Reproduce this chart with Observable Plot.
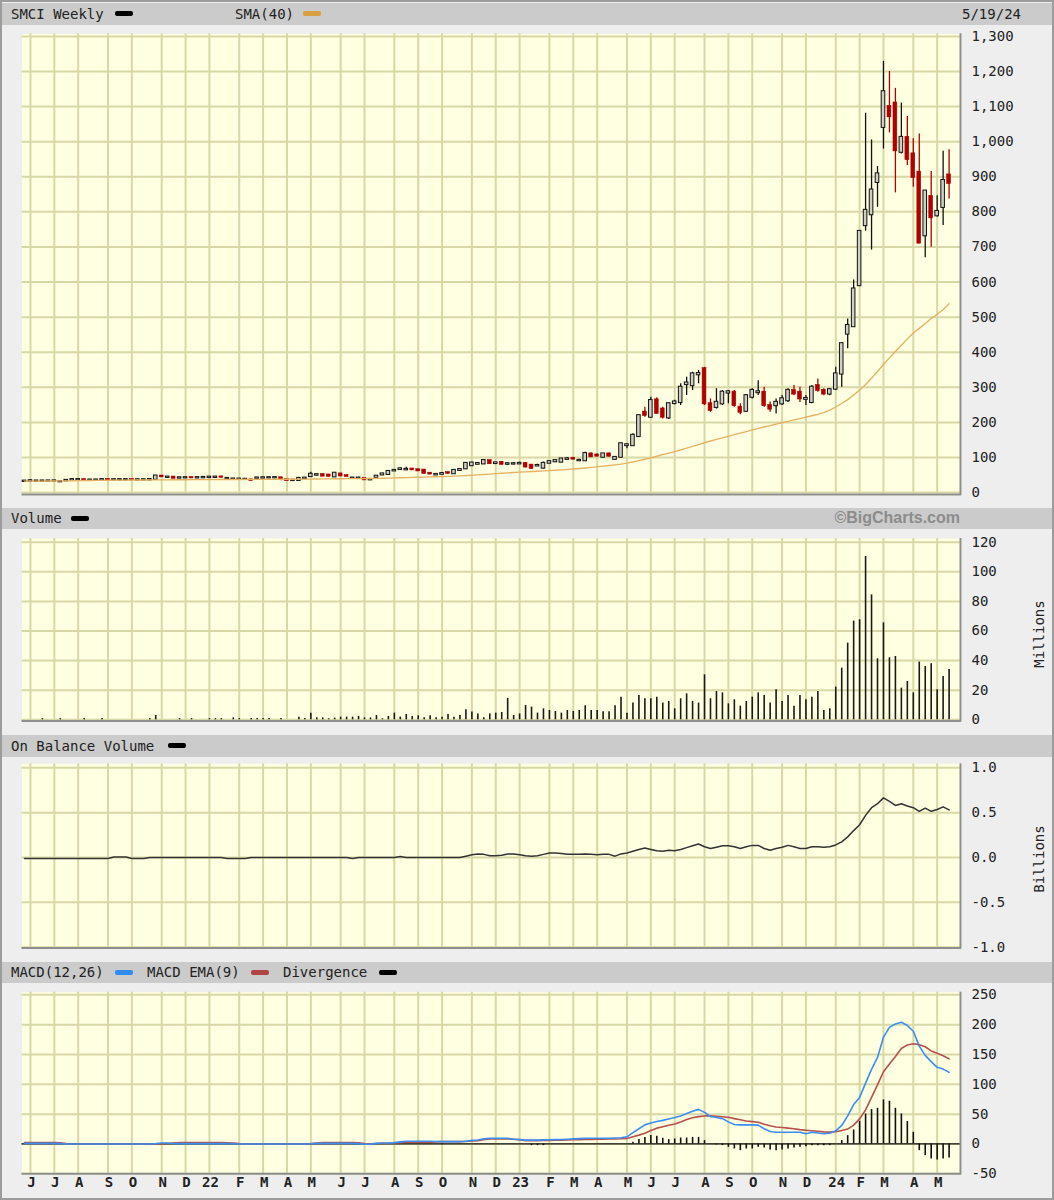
<!DOCTYPE html>
<html>
<head>
<meta charset="utf-8">
<script src="https://cdn.jsdelivr.net/npm/d3@7"></script>
<script src="https://cdn.jsdelivr.net/npm/@observablehq/plot@0.6"></script>
<style>
  body { margin: 0; background: #ffffff; }
  #page { position: relative; width: 1054px; height: 1200px; background: #eeeeee; overflow: hidden;
          font-family: "DejaVu Sans Mono", monospace; }
  .hdr { position: absolute; left: 2px; width: 1050px; background: #cbcbcb; }
  .t { position: absolute; font-size: 14px; color: #222; white-space: nowrap; line-height: 1; }
  .sw { position: absolute; width: 18px; height: 5px; border-radius: 2px; }
  .pl { position: absolute; left: 0; }
  .rot { position: absolute; font-size: 14px; color: #222; white-space: nowrap; transform: translate(-50%, -50%) rotate(-90deg); }
</style>
</head>
<body>
<div id="page"></div>
<script>
// ---------------- DATA (weekly, index 0 = first week shown) ----------------
const tickIdx = [1,5,9,14,18,23,27,31,36,40,44,48,53,57,62,66,70,75,79,83,88,92,96,101,105,109,114,118,122,127,131,136,140,144,149,153];
const tickLabels = ["J","J","A","S","O","N","D","22","F","M","A","M","J","J","A","S","O","N","D","23","F","M","A","M","J","J","A","S","O","N","D","24","F","M","A","M"];

const priceTicks = [0,100,200,300,400,500,600,700,800,900,1000,1100,1200,1300];
const volTicks = [0,20,40,60,80,100,120];
const obvTicks = [-1.0,-0.5,0.0,0.5,1.0];
const macdTicks = [-50,0,50,100,150,200,250];

const open = [
  32.0,32.5,32.5,32.8,32.9,33.0,31.0,34.0,36.0,36.5,
  37.2,35.5,35.6,36.0,37.5,36.2,36.4,36.5,37.4,36.0,
  36.3,36.5,38.0,47.0,43.5,44.0,41.5,42.0,42.8,42.0,
  42.4,43.0,43.5,44.5,40.0,38.5,38.0,37.5,36.0,41.0,
  41.5,42.0,42.2,42.0,36.5,34.5,35.0,40.0,46.0,50.0,
  51.0,50.0,45.0,53.0,48.0,41.0,41.0,39.5,36.5,44.0,
  50.5,52.0,62.0,66.0,65.0,67.0,65.0,64.0,55.0,50.5,
  52.5,57.0,54.0,63.5,68.0,77.0,81.0,82.0,91.0,83.0,
  86.0,81.0,81.5,82.0,83.0,78.0,76.0,70.0,84.0,88.0,
  87.0,95.0,97.0,91.0,91.0,110.0,107.0,101.0,110.0,95.0,
  101.0,134.0,134.0,160.0,229.0,215.0,264.0,238.0,213.0,254.0,
  257.0,308.0,305.0,336.0,353.0,253.0,243.0,253.0,284.0,286.0,
  243.0,232.0,272.0,285.0,286.0,248.0,248.0,253.0,262.0,291.0,
  286.0,266.0,257.0,305.0,291.0,281.0,295.0,338.0,452.0,473.0,
  590.0,761.0,792.0,884.0,1041.0,1100.0,1110.0,970.0,1012.0,965.0,
  913.0,732.0,844.0,789.0,813.0,905.0];
const high = [
  33.0,36.0,33.5,33.3,33.4,33.5,31.5,35.0,37.0,37.2,
  37.6,36.0,36.2,37.0,37.8,36.8,36.9,37.0,37.8,36.6,
  36.8,37.5,47.5,47.5,45.0,44.5,42.5,42.6,43.0,42.8,
  45.0,45.5,46.0,46.5,41.0,39.0,38.8,38.0,36.6,41.8,
  42.3,42.6,42.8,43.0,37.0,35.5,44.0,41.5,58.0,51.5,
  53.0,51.0,56.0,54.5,48.5,42.0,41.8,40.0,37.5,46.5,
  53.5,60.5,64.0,70.0,72.0,68.5,65.5,65.0,57.0,52.5,
  54.5,57.5,63.5,66.0,84.0,85.0,86.0,91.5,92.0,86.0,
  88.0,84.0,84.0,86.5,85.0,80.0,81.0,87.0,89.0,93.0,
  96.5,100.0,101.0,95.0,115.0,112.5,110.0,110.5,113.0,101.5,
  140.0,140.0,168.0,222.0,243.0,272.0,270.0,243.0,255.0,263.0,
  310.0,329.0,343.0,348.0,357.0,267.0,296.0,291.0,291.0,291.0,
  253.0,279.0,296.0,319.0,300.0,258.0,267.0,277.0,296.0,305.0,
  300.0,277.0,305.0,324.0,296.0,296.0,357.0,428.0,495.0,606.0,
  747.0,1081.0,1005.0,929.0,1229.0,1200.0,1152.0,1110.0,1072.0,1008.0,
  1022.0,859.0,915.0,846.0,973.0,977.0];
const low = [
  31.5,32.0,32.0,32.3,32.2,32.3,29.0,33.5,35.5,35.8,
  35.8,35.0,35.2,35.6,36.0,35.8,35.9,36.0,35.8,35.5,
  35.8,36.0,37.5,44.0,43.0,40.5,41.0,41.5,41.8,41.6,
  42.0,42.6,43.0,43.5,39.0,37.8,37.0,36.8,33.5,40.5,
  41.0,41.4,41.8,34.0,34.0,33.8,34.5,39.5,45.5,47.0,
  46.0,46.0,44.5,47.0,45.5,40.5,40.5,35.0,36.0,43.5,
  50.0,51.5,60.0,64.0,63.0,63.5,60.0,54.0,51.5,49.5,
  52.0,53.0,53.0,63.0,67.5,76.0,80.0,81.5,81.5,80.0,
  79.0,78.0,79.0,80.5,71.0,67.0,74.5,67.5,83.0,87.0,
  86.5,93.0,93.5,89.5,90.5,100.0,102.0,100.5,101.0,92.0,
  100.0,125.0,133.0,158.0,215.0,213.0,224.0,210.0,208.0,250.0,
  248.0,277.0,291.0,310.0,248.0,229.0,238.0,248.0,253.0,243.0,
  222.0,229.0,267.0,277.0,243.0,229.0,224.0,248.0,257.0,276.0,
  257.0,248.0,253.0,286.0,276.0,276.0,291.0,300.0,410.0,471.0,
  587.0,745.0,691.0,813.0,979.0,1025.0,854.0,965.0,932.0,870.0,
  711.0,669.0,699.0,785.0,761.0,837.0];
const close = [
  32.5,33.5,32.8,32.9,33.0,33.1,31.2,34.5,36.8,36.9,
  36.0,35.6,35.8,36.8,36.2,36.5,36.6,36.7,36.2,36.3,
  36.5,37.0,47.0,45.0,44.0,41.0,42.0,42.3,42.0,42.4,
  43.0,43.8,44.0,43.8,40.2,38.6,38.3,37.7,35.0,41.5,
  42.0,42.2,42.5,38.0,34.5,35.0,40.0,41.0,52.0,50.8,
  47.0,46.5,55.0,47.5,46.0,41.3,41.3,36.5,37.2,46.5,
  53.0,60.0,63.0,67.5,66.0,65.0,62.0,55.0,53.0,51.5,
  54.0,55.0,63.0,65.5,83.0,84.0,82.5,91.0,82.5,84.5,
  81.0,82.0,82.0,83.0,73.0,69.0,77.0,83.0,88.0,91.0,
  95.5,96.0,95.5,91.5,111.0,102.0,104.0,110.0,104.0,100.0,
  139.0,136.0,163.0,219.0,220.0,262.0,226.0,215.0,253.0,258.0,
  300.0,312.0,338.0,339.0,253.0,234.0,257.0,286.0,287.0,248.0,
  229.0,276.0,291.0,287.0,248.0,238.0,257.0,267.0,291.0,281.0,
  267.0,268.0,300.0,291.0,281.0,293.0,338.0,424.0,476.0,580.0,
  744.0,804.0,862.0,908.0,1142.0,1071.0,974.0,1012.0,949.0,898.0,
  711.0,859.0,783.0,801.0,889.0,881.0];
const sma40 = [
  32.6,32.7,32.8,32.9,33.0,33.2,33.4,33.6,33.8,34.1,
  34.4,34.6,34.8,35.0,35.2,35.4,35.6,35.7,35.8,35.9,
  36.0,36.1,36.2,36.3,36.4,36.5,36.6,36.7,36.8,36.9,
  37.0,37.1,37.2,37.3,37.3,37.4,37.4,37.5,37.5,37.6,
  37.7,37.8,37.9,38.0,38.0,38.1,38.2,38.4,38.6,38.8,
  39.0,39.2,39.4,39.6,39.7,39.8,39.9,40.0,40.2,40.5,
  40.9,41.3,41.8,42.3,42.8,43.3,43.8,44.3,44.8,45.3,
  45.8,46.4,47.0,47.7,48.5,49.5,50.5,51.6,52.8,54.0,
  55.2,56.3,57.3,58.2,59.1,60.0,60.9,61.8,62.8,63.8,
  64.8,66.0,67.3,68.7,70.2,71.8,73.5,75.3,77.2,79.1,
  81.2,84.0,87.3,91.0,95.0,99.2,103.6,108.0,112.5,117.0,
  122.0,127.0,132.0,137.0,142.0,147.0,151.5,156.0,160.5,165.0,
  169.5,174.0,178.5,183.0,187.0,191.0,195.0,199.0,203.0,207.0,
  211.0,215.0,219.0,223.0,228.0,235.0,244.0,254.0,265.0,278.0,
  292.0,308.0,326.0,345.0,365.0,384.0,402.0,420.0,438.0,455.0,
  468.0,482.0,496.0,508.0,521.0,538.0];
// volume, millions
const volume = [
  0,0,0,0.8,0,0,0.8,0,0,0,
  0.8,0,0,0.8,0,0,0,0,0,0,
  0,0.8,2.9,0,0,0,0.8,0,0.8,0,
  0,0.8,0.8,0.8,0,1.3,0.8,0,0.8,0.8,
  0.8,0.8,0,0.8,0,0,1.8,0.8,4.5,1.3,
  1.3,0.7,1.1,1.8,1.8,1.8,2.3,1.3,1.3,2.9,
  0.7,2.2,4.5,1.8,3.6,2.2,2.7,1.3,2.7,1.3,
  1.8,3.6,1.8,2.9,6.8,5.2,4.0,1.3,4.0,4.5,
  4.9,14.4,2.9,4.0,9.7,8.6,4.5,7.4,6.3,5.6,
  4.5,6.3,5.6,6.3,9.5,6.3,6.3,5.4,5.4,9.5,
  15.3,4.5,11.3,16.4,14.2,14.2,15.3,11.3,12.4,7.4,
  14.2,17.5,12.4,11.3,30.4,14.2,19.1,18.2,10.8,13.5,
  9.2,12.4,15.3,18.2,16.4,11.3,20.3,12.4,16.4,9.2,
  16.4,13.5,15.3,19.1,6.3,7.4,22.1,34.9,51.8,66.7,
  67.6,110.3,84.4,41.2,65.5,41.9,42.8,21.4,25.9,18.2,
  39.0,36.0,37.8,20.3,29.3,34.0];
// on balance volume, billions
const obv = [
  -0.01,-0.01,-0.01,-0.01,-0.01,-0.01,-0.01,-0.01,-0.01,-0.01,
  -0.01,-0.01,-0.01,-0.01,-0.01,0.005,0.005,0.005,-0.01,-0.01,
  -0.01,0,0,0,0,0,0,0,0,0,
  0,0,0,0,-0.01,-0.01,-0.01,-0.01,0,0,
  0,0,0,0,0,0,0,0,0,0,
  0,0,0,0,0,-0.01,0,0,0,0,
  0,0,0,0.01,0,0,0,0,0,0,
  0,0,0,0,0.015,0.03,0.04,0.035,0.02,0.02,
  0.025,0.04,0.04,0.03,0.02,0.015,0.02,0.035,0.05,0.05,
  0.045,0.035,0.035,0.035,0.04,0.035,0.03,0.035,0.035,0.015,
  0.04,0.05,0.07,0.09,0.105,0.09,0.075,0.07,0.08,0.075,
  0.09,0.11,0.13,0.15,0.12,0.10,0.115,0.13,0.13,0.12,
  0.10,0.12,0.135,0.135,0.10,0.08,0.10,0.115,0.135,0.12,
  0.10,0.10,0.12,0.12,0.115,0.12,0.14,0.175,0.23,0.30,
  0.365,0.47,0.555,0.60,0.665,0.625,0.58,0.60,0.575,0.555,
  0.515,0.55,0.515,0.535,0.565,0.53];
const macd = [
  1.0,1.0,1.0,1.0,1.0,1.0,0.5,0,0,0,
  0,0,0,0,0,0,0,0,0,0,
  0,0,0.5,1.5,1.5,0.8,0.5,0.5,0.5,0.5,
  0.5,0.5,0.5,0.5,0.5,0.3,0,0,0,0,
  0,0,0,0,0,0,0,0,0.3,1.0,
  1.0,1.0,1.0,1.0,1.0,1.0,0.5,-0.5,-0.5,1.0,
  1.5,1.7,2.2,3.5,4.5,4.5,4.5,4.5,4.5,4.2,
  3.9,3.9,3.9,3.9,4.5,6.0,6.7,8.5,9.5,9.5,
  9.5,9.5,8.0,7.3,6.5,6.5,6.5,6.8,7.0,7.3,
  7.5,8.0,8.5,9.0,9.5,9.5,9.5,9.5,9.5,10.0,
  10.5,12.0,19.0,25.5,32.0,35.0,37.5,39.5,42.0,44.5,
  47.0,51.0,55.0,58.0,53.0,46.0,44.5,42.5,37.0,32.5,
  32.0,32.0,32.0,31.5,25.5,21.0,19.6,19.6,19.6,19.6,
  19.6,17.0,19.5,18.5,17.0,18.0,22.0,31.0,47.0,66.0,
  78.0,102.0,125.0,145.0,179.0,195.5,201.0,204.0,198.5,189.0,
  164.0,148.5,138.0,128.5,125.5,120.0];
const macdSignal = [
  2.5,2.5,2.5,2.5,2.5,2.5,2.0,0.5,0,0,
  0,0,0,0,0,0,0,0,0,0,
  0,0,0,0.5,0.8,1.5,2.2,2.2,2.2,2.2,
  2.2,2.2,2.2,2.2,2.0,1.5,0.5,0,0,0,
  0,0,0,0,0,0,0,0,0.5,1.5,
  2.2,2.2,2.2,2.2,2.2,2.2,2.0,0.5,0.3,0.8,
  1.1,1.1,1.5,2.3,2.8,2.8,2.8,2.8,3.0,3.5,
  3.9,3.9,3.9,3.9,4.2,5.0,5.6,7.0,8.4,8.4,
  8.4,8.4,8.0,7.3,5.6,5.6,5.6,5.8,6.0,6.2,
  6.5,6.8,7.0,7.2,7.4,7.6,7.8,8.0,8.2,8.4,
  8.7,9.3,12.0,14.8,18.0,22.5,26.5,29.0,31.5,33.5,
  37.0,41.0,44.0,45.8,47.0,47.3,46.5,45.5,44.7,42.5,
  40.5,38.5,37.5,36.3,33.0,30.5,28.5,27.5,26.5,25.5,
  24.0,23.0,22.2,21.2,20.3,19.8,20.5,22.5,25.0,31.5,
  42.0,57.0,78.0,99.0,121.0,134.0,146.5,160.0,166.0,168.0,
  166.5,163.0,156.0,152.0,148.0,142.6];
const divergence = [
  0,0,0,0,0,0,0,0,0,0,
  0,0,0,0,0,0,0,0,0,0,
  0,0,0,0,0,0,0,0,0,0,
  0,0,0,0,0,0,0,0,0,0,
  0,0,0,0,0,0,0,0,0,0,
  0,0,0,0,0,0,0,-2.5,-2.5,0,
  0,0,0,0,0,0,0,0,0,0,
  -1.5,0,0,0,0,0,0,0,0,0,
  0,0,0,0,0,-2.8,-2.8,-2.8,0,0,
  0,0,0,0,0,0,0,0,0,0,
  0,0,2.8,7.3,11,14,12.8,9.5,7.3,8.4,
  10,10,11,11,5.6,0,-1.7,-2.8,-5.6,-8.4,
  -11.2,-8.4,-8.4,-5.6,-6.7,-10,-11.2,-10,-8.4,-6.7,
  -5.6,-4.5,-2.8,-2.8,-2.8,-2.8,0,5.6,14,23.5,
  38,50.3,57.6,59.8,73.8,71.6,59.8,50.3,37.5,19.6,
  -11.2,-19.6,-25.2,-26.9,-25.2,-23.5];

// ---------------- BUILD ----------------
const N = close.length;
const weeks = d3.range(N);
const candles = weeks.map(i => ({i, o: open[i], h: high[i], l: low[i], c: close[i]}));
const upC = candles.filter(d => d.c >= d.o);
const dnC = candles.filter(d => d.c < d.o);
const smaData = weeks.map(i => ({i, v: sma40[i]}));
const volData = weeks.map(i => ({i, v: volume[i]}));
const obvData = weeks.map(i => ({i, v: obv[i]}));
const macdData = weeks.map(i => ({i, v: macd[i]}));
const sigData = weeks.map(i => ({i, v: macdSignal[i]}));
const divData = weeks.map(i => ({i, v: divergence[i]}));
const labelMap = new Map(tickIdx.map((d, k) => [d, tickLabels[k]]));

const plotBg = "#ffffe2";
const gridColor = "#d8d8a6";
const edgeColor = "#8e8e8e";
const xDomain = [-0.42, 157.08];
const upFill = "#cfcfc2";
const red = "#b00000";

function panel({height, mt, mb, yDomain, yTicks, fmt, marks, extra = []}) {
  return Plot.plot({
    width: 1054, height,
    marginLeft: 21.5, marginRight: 93, marginTop: mt, marginBottom: mb,
    x: {domain: xDomain, axis: null},
    y: {domain: yDomain, axis: null},
    style: {fontFamily: "'DejaVu Sans Mono', monospace", fontSize: "14px", background: "transparent", overflow: "visible", color: "#222"},
    marks: [
      Plot.frame({fill: plotBg, stroke: "none"}),
      Plot.ruleX(tickIdx, {x: d => d, stroke: gridColor, strokeWidth: 2}),
      Plot.ruleY(yTicks, {y: d => d, stroke: gridColor, strokeWidth: 2}),
      ...marks,
      Plot.ruleY([yDomain[0]], {y: d => d, stroke: edgeColor, strokeWidth: 2, dy: -1}),
      Plot.ruleX([xDomain[1]], {x: d => d, stroke: edgeColor, strokeWidth: 2, dx: -1}),
      Plot.text(yTicks, {y: d => d, frameAnchor: "right", dx: 10, textAnchor: "start", text: fmt, fill: "#222", fontSize: 14}),
      ...extra
    ]
  });
}

const page = document.getElementById("page");
function addPlot(svg, top) {
  svg.classList.add("pl");
  svg.style.top = top + "px";
  page.appendChild(svg);
}
function addEl(cls, css, text) {
  const e = document.createElement("div");
  e.className = cls;
  Object.assign(e.style, css);
  if (text != null) e.textContent = text;
  page.appendChild(e);
  return e;
}

// Price panel
addPlot(panel({
  height: 480, mt: 8.3, mb: 10, yDomain: [-8.26, 1307.4], yTicks: priceTicks,
  fmt: d => d3.format(",")(d),
  marks: [
    Plot.ruleX(upC, {x: "i", y1: "l", y2: "h", stroke: "#111", strokeWidth: 1.3}),
    Plot.ruleX(dnC, {x: "i", y1: "l", y2: "h", stroke: red, strokeWidth: 1.3}),
    Plot.rect(upC, {x1: d => d.i - 0.3, x2: d => d.i + 0.3, y1: "o", y2: "c", fill: upFill, stroke: "#111", strokeWidth: 1, insetTop: -0.6, insetBottom: -0.6}),
    Plot.rect(dnC, {x1: d => d.i - 0.32, x2: d => d.i + 0.32, y1: "o", y2: "c", fill: red, stroke: red, strokeWidth: 0.6, insetTop: -0.6, insetBottom: -0.6}),
    Plot.line(smaData, {x: "i", y: "v", stroke: "#e6b262", strokeWidth: 1.35})
  ]
}), 25);

// Volume panel
addPlot(panel({
  height: 205, mt: 9, mb: 12.5, yDomain: [-1.49, 122.5], yTicks: volTicks,
  fmt: d => String(d),
  marks: [
    Plot.ruleX(volData, {x: "i", y1: () => 0, y2: "v", stroke: "#1a1a1a", strokeWidth: 1.6})
  ]
}), 529);

// OBV panel
addPlot(panel({
  height: 205, mt: 6.3, mb: 13.5, yDomain: [-1.02, 1.0446], yTicks: obvTicks,
  fmt: d => d.toFixed(1),
  marks: [
    Plot.line(obvData, {x: "i", y: "v", stroke: "#333", strokeWidth: 1.5})
  ]
}), 757);

// MACD panel
addPlot(panel({
  height: 214, mt: 8.7, mb: 22.7, yDomain: [-51.7, 254.4], yTicks: macdTicks,
  fmt: d => String(d),
  marks: [
    Plot.ruleX(divData, {x: "i", y1: () => 0, y2: "v", stroke: "#111", strokeWidth: 1.6}),
    Plot.ruleY([0], {y: d => d, stroke: "#111", strokeWidth: 1.3}),
    Plot.line(sigData, {x: "i", y: "v", stroke: "#b5504b", strokeWidth: 1.6}),
    Plot.line(macdData, {x: "i", y: "v", stroke: "#3a8ef2", strokeWidth: 1.6})
  ],
  extra: [
    Plot.text(tickIdx, {x: d => d, frameAnchor: "bottom", dy: 12, dx: 1, text: d => labelMap.get(d), fill: "#222", fontSize: 14, fontWeight: "bold"})
  ]
}), 983);

// Headers
const headers = [
  {top: 3, h: 22}, {top: 508, h: 21}, {top: 735, h: 22}, {top: 962, h: 21}
];
headers.forEach(hd => addEl("hdr", {top: hd.top + "px", height: hd.h + "px"}));

function label(text, left, hd) {
  addEl("t", {left: left + "px", top: (hd.top + hd.h / 2 - 7.5) + "px"}, text);
}
function swatch(left, hd, color) {
  addEl("sw", {left: left + "px", top: (hd.top + 7.5) + "px", background: color});
}
label("SMCI Weekly", 11, headers[0]); swatch(115, headers[0], "#000");
label("SMA(40)", 235, headers[0]); swatch(303, headers[0], "#d9a040");
addEl("t", {right: (1054 - 1021) + "px", top: (headers[0].top + headers[0].h / 2 - 7.5) + "px"}, "5/19/24");

label("Volume", 11, headers[1]); swatch(71, headers[1], "#000");
addEl("t", {right: (1054 - 960) + "px", top: (headers[1].top + 2) + "px", fontFamily: "'Liberation Sans', Arial, sans-serif",
            fontWeight: "bold", fontSize: "16px", color: "#8c8c8c"}, "\u00A9BigCharts.com");

label("On Balance Volume", 11, headers[2]); swatch(168, headers[2], "#000");

label("MACD(12,26)", 11, headers[3]); swatch(115, headers[3], "#2f8cf5");
label("MACD EMA(9)", 147, headers[3]); swatch(251, headers[3], "#b04444");
label("Divergence", 283, headers[3]); swatch(379, headers[3], "#000");

addEl("rot", {left: "1039px", top: "634px"}, "Millions");
addEl("rot", {left: "1039px", top: "859px"}, "Billions");

addEl("", {position: "absolute", left: "0", top: "0", width: "1054px", height: "1200px", boxSizing: "border-box",
           border: "2px solid #9c9c9c", pointerEvents: "none"});
</script>
</body>
</html>
